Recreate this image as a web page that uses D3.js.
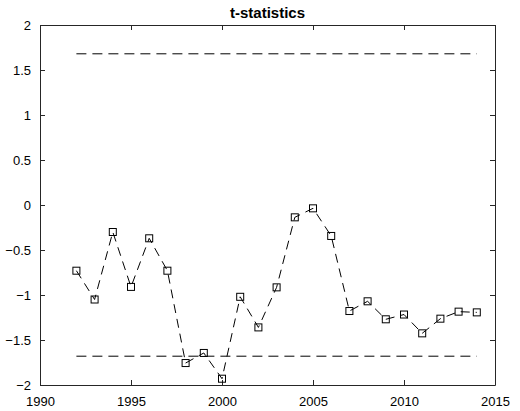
<!DOCTYPE html>
<html>
<head>
<meta charset="utf-8">
<script src="https://cdn.jsdelivr.net/npm/d3@7.9.0/dist/d3.min.js"></script>
<style>
  body { margin: 0; background: #fff; }
  svg { display: block; font-family: "Liberation Sans", Arial, sans-serif; }
</style>
</head>
<body>
<div id="chart"></div>
<script>
// data
const years = [1992, 1993, 1994, 1995, 1996, 1997, 1998, 1999, 2000, 2001, 2002,
  2003, 2004, 2005, 2006, 2007, 2008, 2009, 2010, 2011, 2012, 2013, 2014];
const tstats = [-0.73, -1.05, -0.30, -0.91, -0.37, -0.73, -1.756, -1.644, -1.93, -1.02, -1.36,
  -0.915, -0.137, -0.037, -0.344, -1.178, -1.07, -1.27, -1.217, -1.426, -1.263, -1.185, -1.193];
const critical = [1.68, -1.68];
const xTicks = [1990, 1995, 2000, 2005, 2010, 2015];
const yTicks = [-2, -1.5, -1, -0.5, 0, 0.5, 1, 1.5, 2];

const width = 520, height = 411;
const plot = { left: 40, right: 495, top: 25, bottom: 385 };

const svg = d3.select("#chart").append("svg")
  .attr("width", width)
  .attr("height", height);

const x = d3.scaleLinear().domain([1990, 2015]).range([plot.left, plot.right]);
const y = d3.scaleLinear().domain([-2, 2]).range([plot.bottom, plot.top]);

// axes box, ticks pointing inward
const tick = 5;
svg.append("g")
  .attr("transform", `translate(0,${plot.bottom})`)
  .call(d3.axisBottom(x).tickValues(xTicks).tickFormat(d3.format("d")).tickSizeInner(-tick).tickSizeOuter(0).tickPadding(12));
svg.append("g")
  .attr("transform", `translate(0,${plot.top})`)
  .call(d3.axisTop(x).tickValues(xTicks).tickFormat("").tickSizeInner(-tick).tickSizeOuter(0));
svg.append("g")
  .attr("transform", `translate(${plot.left},0)`)
  .call(d3.axisLeft(y).tickValues(yTicks).tickFormat(d3.format("~g")).tickSizeInner(-tick).tickSizeOuter(0).tickPadding(9));
svg.append("g")
  .attr("transform", `translate(${plot.right},0)`)
  .call(d3.axisRight(y).tickValues(yTicks).tickFormat("").tickSizeInner(-tick).tickSizeOuter(0));

svg.selectAll(".domain, .tick line").attr("stroke", "#262626");
svg.selectAll(".tick text").attr("font-size", 13).attr("fill", "#000")
  .attr("font-family", "Liberation Sans, Arial, sans-serif");

// critical value lines
svg.append("g").selectAll("line")
  .data(critical)
  .join("line")
  .attr("x1", x(years[0]))
  .attr("x2", x(years[years.length - 1]))
  .attr("y1", d => y(d))
  .attr("y2", d => y(d))
  .attr("stroke", "#000")
  .attr("stroke-dasharray", "10,6");

// t-statistic series
const pts = years.map((yr, i) => [yr, tstats[i]]);
svg.append("path")
  .datum(pts)
  .attr("fill", "none")
  .attr("stroke", "#000")
  .attr("stroke-dasharray", "9,6")
  .attr("d", d3.line().x(d => x(d[0])).y(d => y(d[1])));

const s = 7;
svg.append("g").selectAll("rect")
  .data(pts)
  .join("rect")
  .attr("x", d => x(d[0]) - s / 2)
  .attr("y", d => y(d[1]) - s / 2)
  .attr("width", s)
  .attr("height", s)
  .attr("fill", "none")
  .attr("stroke", "#000");

svg.append("text")
  .attr("x", (plot.left + plot.right) / 2)
  .attr("y", 18)
  .attr("text-anchor", "middle")
  .attr("font-size", 15)
  .attr("font-weight", "bold")
  .text("t-statistics");
</script>
</body>
</html>
